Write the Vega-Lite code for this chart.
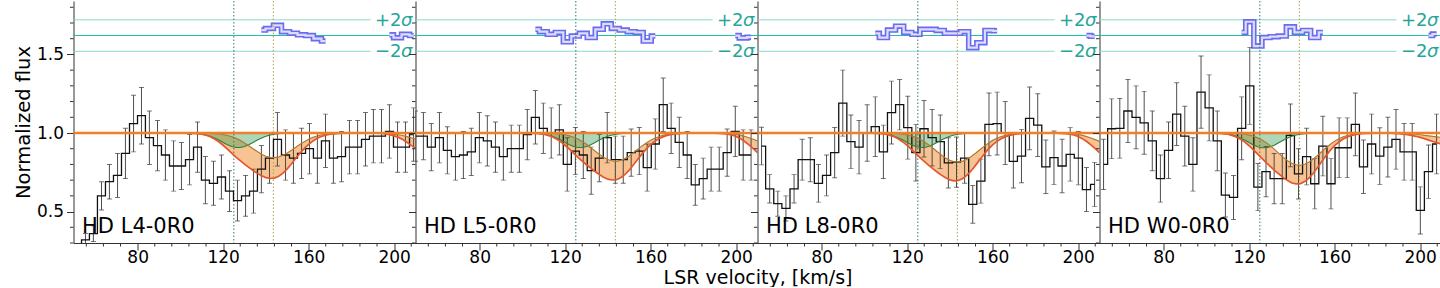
{
"$schema": "https://vega.github.io/schema/vega-lite/v6.json",
"padding": {"left": 13.5, "top": 0, "right": 0, "bottom": 0},
"autosize": {"type": "pad"},
"bounds": "flush",
"spacing": 0,
"config": {
 "font": "DejaVu Sans",
 "view": {"stroke": null},
 "axis": {"grid": false, "domainColor": "#333", "domainWidth": 1, "tickColor": "#333", "tickWidth": 1, "tickSize": 7, "labelFontSize": 17, "labelColor": "#000", "titleFontSize": 19.5, "titleFontWeight": "normal", "titleColor": "#000", "labelPadding": 3, "labelFlush": false, "labelBound": false, "labelOverlap": false, "labelFont": "DejaVu Sans", "titleFont": "DejaVu Sans"}
},
"datasets": {
 "sig": [{"t": "+2", "lv": 1.72}, {"t": "−2", "lv": 1.52}],
 "mid": [{"lv": 1.62}],
 "xt": [{"t":56},{"t":64},{"t":72},{"t":88},{"t":96},{"t":104},{"t":112},{"t":128},{"t":136},{"t":144},{"t":152},{"t":168},{"t":176},{"t":184},{"t":192},{"t":208}],
 "yt": [{"t":0.3},{"t":0.4},{"t":0.6},{"t":0.7},{"t":0.8},{"t":0.9},{"t":1.1},{"t":1.2},{"t":1.3},{"t":1.4},{"t":1.6},{"t":1.7},{"t":1.8}],
 "flux": [
  {"p":1,"v":51.9,"f":0.25,"e":0.03},{"p":1,"v":55.6,"f":0.32,"e":0.04},{"p":1,"v":59.3,"f":0.36,"e":0.05},{"p":1,"v":63.1,"f":0.60,"e":0.09},{"p":1,"v":66.8,"f":0.69,"e":0.11},{"p":1,"v":70.6,"f":0.73,"e":0.14},{"p":1,"v":74.3,"f":0.87,"e":0.16},{"p":1,"v":78.1,"f":1.06,"e":0.18},{"p":1,"v":81.8,"f":1.11,"e":0.18},{"p":1,"v":85.5,"f":0.97,"e":0.17},{"p":1,"v":89.3,"f":0.92,"e":0.16},{"p":1,"v":93.0,"f":0.86,"e":0.16},{"p":1,"v":96.8,"f":0.79,"e":0.16},{"p":1,"v":100.5,"f":0.79,"e":0.15},{"p":1,"v":104.3,"f":0.83,"e":0.16},{"p":1,"v":108.0,"f":0.91,"e":0.16},{"p":1,"v":111.7,"f":0.70,"e":0.15},{"p":1,"v":115.5,"f":0.68,"e":0.14},{"p":1,"v":119.2,"f":0.72,"e":0.14},{"p":1,"v":123.0,"f":0.63,"e":0.13},{"p":1,"v":126.7,"f":0.57,"e":0.13},{"p":1,"v":130.5,"f":0.60,"e":0.13},{"p":1,"v":134.2,"f":0.63,"e":0.14},{"p":1,"v":137.9,"f":0.77,"e":0.15},{"p":1,"v":141.7,"f":0.84,"e":0.16},{"p":1,"v":145.4,"f":0.96,"e":0.17},{"p":1,"v":149.2,"f":0.86,"e":0.16},{"p":1,"v":152.9,"f":0.84,"e":0.16},{"p":1,"v":156.7,"f":0.87,"e":0.16},{"p":1,"v":160.4,"f":0.90,"e":0.16},{"p":1,"v":164.1,"f":0.84,"e":0.16},{"p":1,"v":167.9,"f":0.95,"e":0.17},{"p":1,"v":171.6,"f":0.84,"e":0.16},{"p":1,"v":175.4,"f":0.85,"e":0.16},{"p":1,"v":179.1,"f":0.91,"e":0.17},{"p":1,"v":182.9,"f":0.91,"e":0.17},{"p":1,"v":186.6,"f":0.96,"e":0.17},{"p":1,"v":190.3,"f":0.98,"e":0.17},{"p":1,"v":194.1,"f":0.98,"e":0.17},{"p":1,"v":197.8,"f":1.01,"e":0.17},{"p":1,"v":201.6,"f":0.91,"e":0.16},{"p":1,"v":205.3,"f":0.91,"e":0.16},{"p":1,"v":209.1,"f":0.99,"e":0.17},
  {"p":2,"v":50.0,"f":0.98,"e":0.16},{"p":2,"v":53.7,"f":0.98,"e":0.15},{"p":2,"v":57.4,"f":0.91,"e":0.15},{"p":2,"v":61.2,"f":0.97,"e":0.16},{"p":2,"v":64.9,"f":0.89,"e":0.15},{"p":2,"v":68.7,"f":0.85,"e":0.15},{"p":2,"v":72.4,"f":0.86,"e":0.15},{"p":2,"v":76.1,"f":0.88,"e":0.15},{"p":2,"v":79.9,"f":0.97,"e":0.16},{"p":2,"v":83.6,"f":0.95,"e":0.16},{"p":2,"v":87.4,"f":0.91,"e":0.16},{"p":2,"v":91.1,"f":0.85,"e":0.15},{"p":2,"v":94.8,"f":0.90,"e":0.15},{"p":2,"v":98.6,"f":0.90,"e":0.15},{"p":2,"v":102.3,"f":0.99,"e":0.16},{"p":2,"v":106.1,"f":1.10,"e":0.17},{"p":2,"v":109.8,"f":1.03,"e":0.16},{"p":2,"v":113.5,"f":1.00,"e":0.16},{"p":2,"v":117.3,"f":1.02,"e":0.16},{"p":2,"v":121.0,"f":0.80,"e":0.17},{"p":2,"v":124.8,"f":0.885,"e":0.15},{"p":2,"v":128.5,"f":0.86,"e":0.15},{"p":2,"v":132.2,"f":0.76,"e":0.15},{"p":2,"v":136.0,"f":0.84,"e":0.15},{"p":2,"v":139.7,"f":0.97,"e":0.16},{"p":2,"v":143.5,"f":0.83,"e":0.15},{"p":2,"v":147.2,"f":0.83,"e":0.15},{"p":2,"v":150.9,"f":0.875,"e":0.15},{"p":2,"v":154.7,"f":0.885,"e":0.15},{"p":2,"v":158.4,"f":0.78,"e":0.15},{"p":2,"v":162.2,"f":0.93,"e":0.16},{"p":2,"v":165.9,"f":1.18,"e":0.17},{"p":2,"v":169.6,"f":1.03,"e":0.16},{"p":2,"v":173.4,"f":0.94,"e":0.16},{"p":2,"v":177.1,"f":0.86,"e":0.15},{"p":2,"v":180.9,"f":0.67,"e":0.13},{"p":2,"v":184.6,"f":0.71,"e":0.13},{"p":2,"v":188.3,"f":0.77,"e":0.14},{"p":2,"v":192.1,"f":0.77,"e":0.14},{"p":2,"v":195.8,"f":0.875,"e":0.15},{"p":2,"v":199.6,"f":1.01,"e":0.16},{"p":2,"v":203.3,"f":0.86,"e":0.16},{"p":2,"v":207.0,"f":0.86,"e":0.16},
  {"p":3,"v":51.9,"f":0.917,"e":0.12},{"p":3,"v":55.7,"f":0.645,"e":0.09},{"p":3,"v":59.5,"f":0.55,"e":0.08},{"p":3,"v":63.3,"f":0.52,"e":0.08},{"p":3,"v":67.1,"f":0.645,"e":0.09},{"p":3,"v":70.9,"f":0.83,"e":0.13},{"p":3,"v":74.7,"f":0.83,"e":0.14},{"p":3,"v":78.5,"f":0.68,"e":0.12},{"p":3,"v":82.3,"f":0.73,"e":0.13},{"p":3,"v":86.1,"f":0.875,"e":0.16},{"p":3,"v":89.9,"f":1.19,"e":0.21},{"p":3,"v":93.7,"f":0.945,"e":0.17},{"p":3,"v":97.5,"f":0.91,"e":0.17},{"p":3,"v":101.3,"f":1.0,"e":0.18},{"p":3,"v":105.1,"f":1.04,"e":0.19},{"p":3,"v":108.9,"f":0.88,"e":0.17},{"p":3,"v":112.7,"f":1.13,"e":0.2},{"p":3,"v":116.5,"f":1.18,"e":0.16},{"p":3,"v":120.3,"f":1.034,"e":0.2},{"p":3,"v":124.1,"f":0.875,"e":0.18},{"p":3,"v":127.9,"f":1.027,"e":0.18},{"p":3,"v":131.7,"f":0.97,"e":0.18},{"p":3,"v":135.5,"f":0.945,"e":0.17},{"p":3,"v":139.3,"f":0.81,"e":0.16},{"p":3,"v":143.1,"f":0.815,"e":0.16},{"p":3,"v":146.9,"f":0.84,"e":0.16},{"p":3,"v":150.7,"f":0.546,"e":0.12},{"p":3,"v":154.5,"f":0.694,"e":0.14},{"p":3,"v":158.3,"f":1.055,"e":0.2},{"p":3,"v":162.1,"f":1.06,"e":0.2},{"p":3,"v":165.9,"f":1.0,"e":0.2},{"p":3,"v":169.7,"f":0.82,"e":0.17},{"p":3,"v":173.5,"f":0.853,"e":0.17},{"p":3,"v":177.3,"f":1.093,"e":0.2},{"p":3,"v":181.1,"f":1.05,"e":0.2},{"p":3,"v":184.9,"f":0.785,"e":0.17},{"p":3,"v":188.7,"f":0.843,"e":0.17},{"p":3,"v":192.5,"f":0.79,"e":0.17},{"p":3,"v":196.3,"f":0.864,"e":0.17},{"p":3,"v":200.1,"f":0.84,"e":0.17},{"p":3,"v":203.9,"f":0.64,"e":0.14},{"p":3,"v":207.7,"f":0.673,"e":0.14},
  {"p":4,"v":51.9,"f":0.80,"e":0.16},{"p":4,"v":55.7,"f":1.027,"e":0.19},{"p":4,"v":59.5,"f":1.03,"e":0.19},{"p":4,"v":63.3,"f":1.14,"e":0.2},{"p":4,"v":67.1,"f":1.10,"e":0.2},{"p":4,"v":70.9,"f":1.065,"e":0.2},{"p":4,"v":74.7,"f":0.95,"e":0.19},{"p":4,"v":78.5,"f":0.71,"e":0.15},{"p":4,"v":82.3,"f":0.89,"e":0.18},{"p":4,"v":86.1,"f":1.12,"e":0.2},{"p":4,"v":89.9,"f":0.98,"e":0.19},{"p":4,"v":93.7,"f":0.80,"e":0.17},{"p":4,"v":97.5,"f":1.26,"e":0.23},{"p":4,"v":101.3,"f":1.16,"e":0.21},{"p":4,"v":105.1,"f":0.95,"e":0.19},{"p":4,"v":108.9,"f":0.605,"e":0.14},{"p":4,"v":112.7,"f":0.59,"e":0.14},{"p":4,"v":116.5,"f":1.03,"e":0.2},{"p":4,"v":120.3,"f":1.30,"e":0.245},{"p":4,"v":124.1,"f":0.656,"e":0.15},{"p":4,"v":127.9,"f":0.754,"e":0.16},{"p":4,"v":131.7,"f":0.71,"e":0.16},{"p":4,"v":135.5,"f":0.71,"e":0.16},{"p":4,"v":139.3,"f":0.985,"e":0.2},{"p":4,"v":143.1,"f":0.74,"e":0.16},{"p":4,"v":146.9,"f":0.85,"e":0.18},{"p":4,"v":150.7,"f":0.677,"e":0.16},{"p":4,"v":154.5,"f":0.917,"e":0.19},{"p":4,"v":158.3,"f":0.677,"e":0.16},{"p":4,"v":162.1,"f":0.906,"e":0.19},{"p":4,"v":165.9,"f":0.906,"e":0.19},{"p":4,"v":169.7,"f":1.055,"e":0.2},{"p":4,"v":173.5,"f":0.785,"e":0.17},{"p":4,"v":177.3,"f":0.93,"e":0.19},{"p":4,"v":181.1,"f":0.853,"e":0.18},{"p":4,"v":184.9,"f":0.91,"e":0.19},{"p":4,"v":188.7,"f":0.96,"e":0.19},{"p":4,"v":192.5,"f":0.88,"e":0.18},{"p":4,"v":196.3,"f":0.88,"e":0.18},{"p":4,"v":200.1,"f":0.507,"e":0.15},{"p":4,"v":203.9,"f":0.754,"e":0.17},{"p":4,"v":207.7,"f":0.93,"e":0.19}
 ],
 "res": [
  {"p":1,"s":"a","v":137.9,"r":1.655},{"p":1,"s":"a","v":141.7,"r":1.665},{"p":1,"s":"a","v":145.4,"r":1.685},{"p":1,"s":"a","v":149.2,"r":1.645},{"p":1,"s":"a","v":152.9,"r":1.635},{"p":1,"s":"a","v":156.7,"r":1.625},{"p":1,"s":"a","v":160.4,"r":1.62},{"p":1,"s":"a","v":164.1,"r":1.6},{"p":1,"s":"a","v":167.9,"r":1.585},
  {"p":1,"s":"b","v":197.8,"r":1.625},{"p":1,"s":"b","v":201.6,"r":1.606},{"p":1,"s":"b","v":205.3,"r":1.628},{"p":1,"s":"b","v":209.1,"r":1.62},
  {"p":2,"s":"a","v":106.1,"r":1.66},{"p":2,"s":"a","v":109.8,"r":1.645},{"p":2,"s":"a","v":113.5,"r":1.628},{"p":2,"s":"a","v":117.3,"r":1.64},{"p":2,"s":"a","v":121.0,"r":1.58},{"p":2,"s":"a","v":124.8,"r":1.617},{"p":2,"s":"a","v":128.5,"r":1.634},{"p":2,"s":"a","v":132.2,"r":1.607},{"p":2,"s":"a","v":136.0,"r":1.66},{"p":2,"s":"a","v":139.7,"r":1.695},{"p":2,"s":"a","v":143.5,"r":1.665},{"p":2,"s":"a","v":147.2,"r":1.655},{"p":2,"s":"a","v":150.9,"r":1.645},{"p":2,"s":"a","v":154.7,"r":1.64},{"p":2,"s":"a","v":158.4,"r":1.585},{"p":2,"s":"a","v":162.2,"r":1.617},
  {"p":2,"s":"b","v":199.6,"r":1.62},{"p":2,"s":"b","v":203.3,"r":1.605},{"p":2,"s":"b","v":207.0,"r":1.61},
  {"p":3,"s":"a","v":105.1,"r":1.634},{"p":3,"s":"a","v":108.9,"r":1.607},{"p":3,"s":"a","v":112.7,"r":1.655},{"p":3,"s":"a","v":116.5,"r":1.68},{"p":3,"s":"a","v":120.3,"r":1.64},{"p":3,"s":"a","v":124.1,"r":1.628},{"p":3,"s":"a","v":127.9,"r":1.66},{"p":3,"s":"a","v":131.7,"r":1.66},{"p":3,"s":"a","v":135.5,"r":1.653},{"p":3,"s":"a","v":139.3,"r":1.634},{"p":3,"s":"a","v":143.1,"r":1.634},{"p":3,"s":"a","v":146.9,"r":1.645},{"p":3,"s":"a","v":150.7,"r":1.543},{"p":3,"s":"a","v":154.5,"r":1.575},{"p":3,"s":"a","v":158.3,"r":1.653},{"p":3,"s":"a","v":162.1,"r":1.65},
  {"p":3,"s":"b","v":203.9,"r":1.62},{"p":3,"s":"b","v":207.7,"r":1.615},
  {"p":4,"s":"a","v":116.5,"r":1.64},{"p":4,"s":"a","v":120.3,"r":1.708},{"p":4,"s":"a","v":124.1,"r":1.553},{"p":4,"s":"a","v":127.9,"r":1.607},{"p":4,"s":"a","v":131.7,"r":1.613},{"p":4,"s":"a","v":135.5,"r":1.617},{"p":4,"s":"a","v":139.3,"r":1.676},{"p":4,"s":"a","v":143.1,"r":1.64},{"p":4,"s":"a","v":146.9,"r":1.653},{"p":4,"s":"a","v":150.7,"r":1.607},{"p":4,"s":"a","v":154.5,"r":1.64},
  {"p":4,"s":"b","v":203.9,"r":1.62},{"p":4,"s":"b","v":207.7,"r":1.63}
 ],
 "model": [
  {"p":1,"v":50,"g":1,"lo":1,"hi":1},{"p":1,"v":102,"g":1,"lo":1,"hi":1},{"p":1,"v":104,"g":0.999,"lo":0.999,"hi":1},{"p":1,"v":106,"g":0.998,"lo":0.998,"hi":1},{"p":1,"v":108,"g":0.996,"lo":0.996,"hi":1},{"p":1,"v":110,"g":0.993,"lo":0.992,"hi":0.999},{"p":1,"v":112,"g":0.987,"lo":0.986,"hi":0.999},{"p":1,"v":114,"g":0.979,"lo":0.976,"hi":0.998},{"p":1,"v":116,"g":0.968,"lo":0.962,"hi":0.996},{"p":1,"v":118,"g":0.955,"lo":0.944,"hi":0.994},{"p":1,"v":120,"g":0.940,"lo":0.922,"hi":0.990},{"p":1,"v":122,"g":0.926,"lo":0.898,"hi":0.984},{"p":1,"v":124,"g":0.914,"lo":0.872,"hi":0.977},{"p":1,"v":126,"g":0.908,"lo":0.847,"hi":0.966},{"p":1,"v":128,"g":0.908,"lo":0.824,"hi":0.953},{"p":1,"v":130,"g":0.914,"lo":0.802,"hi":0.937},{"p":1,"v":132,"g":0.926,"lo":0.781,"hi":0.919},{"p":1,"v":134,"g":0.940,"lo":0.761,"hi":0.900},{"p":1,"v":136,"g":0.955,"lo":0.743,"hi":0.882},{"p":1,"v":138,"g":0.968,"lo":0.728,"hi":0.865},{"p":1,"v":140,"g":0.979,"lo":0.716,"hi":0.852},{"p":1,"v":142,"g":0.987,"lo":0.711,"hi":0.845},{"p":1,"v":144,"g":0.993,"lo":0.713,"hi":0.843},{"p":1,"v":146,"g":0.996,"lo":0.725,"hi":0.848},{"p":1,"v":148,"g":0.998,"lo":0.745,"hi":0.858},{"p":1,"v":150,"g":0.999,"lo":0.772,"hi":0.873},{"p":1,"v":152,"g":1,"lo":0.804,"hi":0.891},{"p":1,"v":154,"g":1,"lo":0.839,"hi":0.910},{"p":1,"v":156,"g":1,"lo":0.872,"hi":0.928},{"p":1,"v":158,"g":1,"lo":0.902,"hi":0.945},{"p":1,"v":160,"g":1,"lo":0.928,"hi":0.960},{"p":1,"v":162,"g":1,"lo":0.949,"hi":0.972},{"p":1,"v":164,"g":1,"lo":0.966,"hi":0.981},{"p":1,"v":166,"g":1,"lo":0.978,"hi":0.988},{"p":1,"v":168,"g":1,"lo":0.986,"hi":0.992},{"p":1,"v":170,"g":1,"lo":0.992,"hi":0.995},{"p":1,"v":172,"g":1,"lo":0.995,"hi":0.997},{"p":1,"v":174,"g":1,"lo":0.997,"hi":0.999},{"p":1,"v":176,"g":1,"lo":0.999,"hi":0.999},{"p":1,"v":180,"g":1,"lo":1,"hi":1},{"p":1,"v":188,"g":1,"lo":1,"hi":1},{"p":1,"v":190,"g":1,"lo":0.999,"hi":1},{"p":1,"v":192,"g":1,"lo":0.999,"hi":0.999},{"p":1,"v":194,"g":1,"lo":0.997,"hi":0.999},{"p":1,"v":196,"g":1,"lo":0.994,"hi":0.998},{"p":1,"v":198,"g":1,"lo":0.990,"hi":0.996},{"p":1,"v":200,"g":1,"lo":0.982,"hi":0.993},{"p":1,"v":202,"g":1,"lo":0.972,"hi":0.989},{"p":1,"v":204,"g":1,"lo":0.958,"hi":0.984},{"p":1,"v":206,"g":1,"lo":0.941,"hi":0.977},{"p":1,"v":208,"g":1,"lo":0.921,"hi":0.970},{"p":1,"v":210,"g":1,"lo":0.902,"hi":0.962},
  {"p":2,"v":50,"g":1,"lo":1,"hi":1},{"p":2,"v":102,"g":1,"lo":1,"hi":1},{"p":2,"v":104,"g":0.999,"lo":0.999,"hi":1},{"p":2,"v":106,"g":0.998,"lo":0.998,"hi":1},{"p":2,"v":108,"g":0.996,"lo":0.996,"hi":1},{"p":2,"v":110,"g":0.993,"lo":0.992,"hi":0.999},{"p":2,"v":112,"g":0.987,"lo":0.985,"hi":0.999},{"p":2,"v":114,"g":0.979,"lo":0.976,"hi":0.998},{"p":2,"v":116,"g":0.968,"lo":0.962,"hi":0.996},{"p":2,"v":118,"g":0.955,"lo":0.944,"hi":0.993},{"p":2,"v":120,"g":0.940,"lo":0.922,"hi":0.989},{"p":2,"v":122,"g":0.926,"lo":0.897,"hi":0.982},{"p":2,"v":124,"g":0.914,"lo":0.871,"hi":0.973},{"p":2,"v":126,"g":0.908,"lo":0.845,"hi":0.961},{"p":2,"v":128,"g":0.908,"lo":0.821,"hi":0.946},{"p":2,"v":130,"g":0.914,"lo":0.798,"hi":0.928},{"p":2,"v":132,"g":0.926,"lo":0.776,"hi":0.907},{"p":2,"v":134,"g":0.940,"lo":0.755,"hi":0.885},{"p":2,"v":136,"g":0.955,"lo":0.736,"hi":0.864},{"p":2,"v":138,"g":0.968,"lo":0.719,"hi":0.845},{"p":2,"v":140,"g":0.979,"lo":0.706,"hi":0.831},{"p":2,"v":142,"g":0.987,"lo":0.701,"hi":0.822},{"p":2,"v":144,"g":0.993,"lo":0.703,"hi":0.820},{"p":2,"v":146,"g":0.996,"lo":0.715,"hi":0.826},{"p":2,"v":148,"g":0.998,"lo":0.736,"hi":0.837},{"p":2,"v":150,"g":0.999,"lo":0.764,"hi":0.854},{"p":2,"v":152,"g":1,"lo":0.798,"hi":0.875},{"p":2,"v":154,"g":1,"lo":0.833,"hi":0.896},{"p":2,"v":156,"g":1,"lo":0.867,"hi":0.918},{"p":2,"v":158,"g":1,"lo":0.899,"hi":0.937},{"p":2,"v":160,"g":1,"lo":0.926,"hi":0.954},{"p":2,"v":162,"g":1,"lo":0.948,"hi":0.967},{"p":2,"v":164,"g":1,"lo":0.965,"hi":0.978},{"p":2,"v":166,"g":1,"lo":0.977,"hi":0.986},{"p":2,"v":168,"g":1,"lo":0.986,"hi":0.991},{"p":2,"v":170,"g":1,"lo":0.991,"hi":0.995},{"p":2,"v":172,"g":1,"lo":0.995,"hi":0.997},{"p":2,"v":174,"g":1,"lo":0.997,"hi":0.998},{"p":2,"v":176,"g":1,"lo":0.999,"hi":0.999},{"p":2,"v":180,"g":1,"lo":1,"hi":1},{"p":2,"v":188,"g":1,"lo":1,"hi":1},{"p":2,"v":190,"g":1,"lo":0.999,"hi":1},{"p":2,"v":192,"g":1,"lo":0.998,"hi":0.999},{"p":2,"v":194,"g":1,"lo":0.996,"hi":0.999},{"p":2,"v":196,"g":1,"lo":0.993,"hi":0.997},{"p":2,"v":198,"g":1,"lo":0.987,"hi":0.995},{"p":2,"v":200,"g":1,"lo":0.978,"hi":0.991},{"p":2,"v":202,"g":1,"lo":0.964,"hi":0.986},{"p":2,"v":204,"g":1,"lo":0.946,"hi":0.979},{"p":2,"v":206,"g":1,"lo":0.924,"hi":0.970},{"p":2,"v":208,"g":1,"lo":0.900,"hi":0.960},{"p":2,"v":210,"g":1,"lo":0.875,"hi":0.950},
  {"p":3,"v":50,"g":1,"lo":1,"hi":1},{"p":3,"v":102,"g":1,"lo":1,"hi":1},{"p":3,"v":104,"g":0.999,"lo":0.999,"hi":1},{"p":3,"v":106,"g":0.998,"lo":0.998,"hi":1},{"p":3,"v":108,"g":0.996,"lo":0.996,"hi":1},{"p":3,"v":110,"g":0.993,"lo":0.992,"hi":0.999},{"p":3,"v":112,"g":0.987,"lo":0.985,"hi":0.999},{"p":3,"v":114,"g":0.979,"lo":0.976,"hi":0.998},{"p":3,"v":116,"g":0.968,"lo":0.962,"hi":0.996},{"p":3,"v":118,"g":0.955,"lo":0.943,"hi":0.993},{"p":3,"v":120,"g":0.940,"lo":0.921,"hi":0.988},{"p":3,"v":122,"g":0.926,"lo":0.896,"hi":0.982},{"p":3,"v":124,"g":0.914,"lo":0.870,"hi":0.972},{"p":3,"v":126,"g":0.908,"lo":0.844,"hi":0.960},{"p":3,"v":128,"g":0.908,"lo":0.819,"hi":0.944},{"p":3,"v":130,"g":0.914,"lo":0.796,"hi":0.926},{"p":3,"v":132,"g":0.926,"lo":0.773,"hi":0.905},{"p":3,"v":134,"g":0.940,"lo":0.752,"hi":0.882},{"p":3,"v":136,"g":0.955,"lo":0.732,"hi":0.860},{"p":3,"v":138,"g":0.968,"lo":0.715,"hi":0.841},{"p":3,"v":140,"g":0.979,"lo":0.702,"hi":0.826},{"p":3,"v":142,"g":0.987,"lo":0.696,"hi":0.817},{"p":3,"v":144,"g":0.993,"lo":0.698,"hi":0.815},{"p":3,"v":146,"g":0.996,"lo":0.710,"hi":0.821},{"p":3,"v":148,"g":0.998,"lo":0.732,"hi":0.833},{"p":3,"v":150,"g":0.999,"lo":0.760,"hi":0.850},{"p":3,"v":152,"g":1,"lo":0.794,"hi":0.871},{"p":3,"v":154,"g":1,"lo":0.830,"hi":0.893},{"p":3,"v":156,"g":1,"lo":0.865,"hi":0.915},{"p":3,"v":158,"g":1,"lo":0.897,"hi":0.935},{"p":3,"v":160,"g":1,"lo":0.925,"hi":0.953},{"p":3,"v":162,"g":1,"lo":0.947,"hi":0.967},{"p":3,"v":164,"g":1,"lo":0.964,"hi":0.977},{"p":3,"v":166,"g":1,"lo":0.977,"hi":0.985},{"p":3,"v":168,"g":1,"lo":0.985,"hi":0.991},{"p":3,"v":170,"g":1,"lo":0.991,"hi":0.995},{"p":3,"v":172,"g":1,"lo":0.995,"hi":0.997},{"p":3,"v":174,"g":1,"lo":0.997,"hi":0.998},{"p":3,"v":176,"g":1,"lo":0.999,"hi":0.999},{"p":3,"v":180,"g":1,"lo":1,"hi":1},{"p":3,"v":188,"g":1,"lo":1,"hi":1},{"p":3,"v":190,"g":1,"lo":0.999,"hi":1},{"p":3,"v":192,"g":1,"lo":0.998,"hi":0.999},{"p":3,"v":194,"g":1,"lo":0.996,"hi":0.998},{"p":3,"v":196,"g":1,"lo":0.993,"hi":0.997},{"p":3,"v":198,"g":1,"lo":0.987,"hi":0.994},{"p":3,"v":200,"g":1,"lo":0.978,"hi":0.991},{"p":3,"v":202,"g":1,"lo":0.964,"hi":0.985},{"p":3,"v":204,"g":1,"lo":0.946,"hi":0.977},{"p":3,"v":206,"g":1,"lo":0.924,"hi":0.968},{"p":3,"v":208,"g":1,"lo":0.900,"hi":0.958},{"p":3,"v":210,"g":1,"lo":0.875,"hi":0.947},
  {"p":4,"v":50,"g":1,"lo":1,"hi":1},{"p":4,"v":102,"g":1,"lo":1,"hi":1},{"p":4,"v":104,"g":0.999,"lo":0.999,"hi":1},{"p":4,"v":106,"g":0.998,"lo":0.998,"hi":1},{"p":4,"v":108,"g":0.996,"lo":0.996,"hi":1},{"p":4,"v":110,"g":0.993,"lo":0.992,"hi":0.999},{"p":4,"v":112,"g":0.987,"lo":0.985,"hi":0.999},{"p":4,"v":114,"g":0.979,"lo":0.975,"hi":0.997},{"p":4,"v":116,"g":0.968,"lo":0.960,"hi":0.995},{"p":4,"v":118,"g":0.954,"lo":0.942,"hi":0.992},{"p":4,"v":120,"g":0.939,"lo":0.919,"hi":0.987},{"p":4,"v":122,"g":0.924,"lo":0.893,"hi":0.980},{"p":4,"v":124,"g":0.912,"lo":0.865,"hi":0.969},{"p":4,"v":126,"g":0.906,"lo":0.838,"hi":0.956},{"p":4,"v":128,"g":0.906,"lo":0.811,"hi":0.938},{"p":4,"v":130,"g":0.912,"lo":0.786,"hi":0.918},{"p":4,"v":132,"g":0.924,"lo":0.761,"hi":0.894},{"p":4,"v":134,"g":0.939,"lo":0.738,"hi":0.869},{"p":4,"v":136,"g":0.954,"lo":0.716,"hi":0.845},{"p":4,"v":138,"g":0.968,"lo":0.697,"hi":0.824},{"p":4,"v":140,"g":0.979,"lo":0.682,"hi":0.807},{"p":4,"v":142,"g":0.987,"lo":0.676,"hi":0.797},{"p":4,"v":144,"g":0.993,"lo":0.678,"hi":0.795},{"p":4,"v":146,"g":0.996,"lo":0.691,"hi":0.801},{"p":4,"v":148,"g":0.998,"lo":0.713,"hi":0.815},{"p":4,"v":150,"g":0.999,"lo":0.744,"hi":0.834},{"p":4,"v":152,"g":1,"lo":0.780,"hi":0.857},{"p":4,"v":154,"g":1,"lo":0.818,"hi":0.882},{"p":4,"v":156,"g":1,"lo":0.856,"hi":0.906},{"p":4,"v":158,"g":1,"lo":0.890,"hi":0.928},{"p":4,"v":160,"g":1,"lo":0.919,"hi":0.948},{"p":4,"v":162,"g":1,"lo":0.943,"hi":0.963},{"p":4,"v":164,"g":1,"lo":0.962,"hi":0.975},{"p":4,"v":166,"g":1,"lo":0.975,"hi":0.984},{"p":4,"v":168,"g":1,"lo":0.984,"hi":0.990},{"p":4,"v":170,"g":1,"lo":0.991,"hi":0.994},{"p":4,"v":172,"g":1,"lo":0.995,"hi":0.997},{"p":4,"v":174,"g":1,"lo":0.997,"hi":0.998},{"p":4,"v":176,"g":1,"lo":0.998,"hi":0.999},{"p":4,"v":180,"g":1,"lo":1,"hi":1},{"p":4,"v":184,"g":1,"lo":0.999,"hi":1},{"p":4,"v":186,"g":1,"lo":0.999,"hi":0.999},{"p":4,"v":188,"g":1,"lo":0.998,"hi":0.999},{"p":4,"v":190,"g":1,"lo":0.996,"hi":0.998},{"p":4,"v":192,"g":1,"lo":0.993,"hi":0.997},{"p":4,"v":194,"g":1,"lo":0.990,"hi":0.996},{"p":4,"v":196,"g":1,"lo":0.985,"hi":0.994},{"p":4,"v":198,"g":1,"lo":0.979,"hi":0.992},{"p":4,"v":200,"g":1,"lo":0.972,"hi":0.989},{"p":4,"v":202,"g":1,"lo":0.964,"hi":0.985},{"p":4,"v":204,"g":1,"lo":0.955,"hi":0.982},{"p":4,"v":206,"g":1,"lo":0.946,"hi":0.978},{"p":4,"v":208,"g":1,"lo":0.937,"hi":0.975},{"p":4,"v":210,"g":1,"lo":0.931,"hi":0.972}
 ]
},
"hconcat": [
 {"width": 342, "height": 242, "layer": [
  {"data": {"name": "model"}, "transform": [{"filter": "datum.p == 1"}], "mark": {"type": "area", "color": "#f0913a", "opacity": 0.55, "clip": true},
   "encoding": {"x": {"field": "v", "type": "quantitative", "scale": {"domain": [50, 210], "nice": false, "zero": false}, "axis": {"title": null, "labelPadding": -0.5, "values": [80, 120, 160, 200], "format": "d"}},
    "y": {"field": "lo", "type": "quantitative", "scale": {"domain": [0.3, 1.84], "nice": false, "zero": false}, "axis": {"title": "Normalized flux", "titlePadding": 2.5, "values": [0.5, 1.0, 1.5], "format": ".1f"}},
    "y2": {"field": "hi"}}},
  {"data": {"name": "xt"}, "mark": {"type": "rule", "color": "#333", "strokeWidth": 1}, "encoding": {"x": {"field": "t", "type": "quantitative"}, "y": {"datum": 0.3}, "y2": {"datum": 0.2777}}},
  {"data": {"name": "yt"}, "mark": {"type": "rule", "color": "#333", "strokeWidth": 1}, "encoding": {"y": {"field": "t", "type": "quantitative"}, "x": {"datum": 50}, "x2": {"datum": 48.36}}},
  {"data": {"name": "model"}, "transform": [{"filter": "datum.p == 1"}], "mark": {"type": "area", "color": "#3f9f5a", "opacity": 0.42, "clip": true},
   "encoding": {"x": {"field": "v", "type": "quantitative"}, "y": {"field": "g", "type": "quantitative"}, "y2": {"datum": 1}}},
  {"data": {"name": "sig"}, "mark": {"type": "rule", "stroke": "#8ad8cc", "strokeWidth": 1},
   "encoding": {"x": {"datum": 50}, "x2": {"datum": 189}, "y": {"field": "lv", "type": "quantitative"}}},
  {"data": {"name": "mid"}, "mark": {"type": "rule", "strokeWidth": 1.1},
   "encoding": {"x": {"datum": 50}, "x2": {"datum": 210}, "y": {"field": "lv", "type": "quantitative"}, "color": {"value": "#1fc0ad"}}},
  {"data": {"name": "res"}, "transform": [{"filter": "datum.p == 1"}], "mark": {"type": "line", "interpolate": "step", "color": "#6b6bf0", "strokeWidth": 5.5, "clip": true},
   "encoding": {"x": {"field": "v", "type": "quantitative"}, "y": {"field": "r", "type": "quantitative"}, "detail": {"field": "s"}}},
  {"data": {"name": "res"}, "transform": [{"filter": "datum.p == 1"}], "mark": {"type": "line", "interpolate": "step", "color": "#dcdcff", "strokeWidth": 2.2, "clip": true},
   "encoding": {"x": {"field": "v", "type": "quantitative"}, "y": {"field": "r", "type": "quantitative"}, "detail": {"field": "s"}}},
  {"data": {"values": [{}]}, "mark": {"type": "rule", "color": "#2b7a68", "strokeWidth": 1, "strokeDash": [1.5, 2]}, "encoding": {"x": {"datum": 125}}},
  {"data": {"values": [{}]}, "mark": {"type": "rule", "color": "#b0a050", "strokeWidth": 1, "strokeDash": [1.5, 2]}, "encoding": {"x": {"datum": 143.5}}},
  {"data": {"name": "flux"}, "transform": [{"filter": "datum.p == 1"}], "mark": {"type": "errorbar", "ticks": true, "color": "#3a3a3a", "thickness": 0.9, "size": 5, "clip": true},
   "encoding": {"x": {"field": "v", "type": "quantitative", "title": null}, "y": {"field": "f", "type": "quantitative", "title": "Normalized flux"}, "yError": {"field": "e"}}},
  {"data": {"name": "flux"}, "transform": [{"filter": "datum.p == 1"}], "mark": {"type": "line", "interpolate": "step", "color": "#111", "strokeWidth": 1.3, "clip": true},
   "encoding": {"x": {"field": "v", "type": "quantitative"}, "y": {"field": "f", "type": "quantitative"}}},
  {"data": {"name": "model"}, "transform": [{"filter": "datum.p == 1"}], "mark": {"type": "line", "color": "#2f7d3a", "strokeWidth": 1.1, "clip": true},
   "encoding": {"x": {"field": "v", "type": "quantitative"}, "y": {"field": "g", "type": "quantitative"}}},
  {"data": {"name": "model"}, "transform": [{"filter": "datum.p == 1"}], "mark": {"type": "line", "color": "#b07a30", "strokeWidth": 1.2, "clip": true},
   "encoding": {"x": {"field": "v", "type": "quantitative"}, "y": {"field": "hi", "type": "quantitative"}}},
  {"data": {"name": "model"}, "transform": [{"filter": "datum.p == 1"}], "mark": {"type": "line", "color": "#e4572e", "strokeWidth": 1.7, "clip": true},
   "encoding": {"x": {"field": "v", "type": "quantitative"}, "y": {"field": "lo", "type": "quantitative"}}},
  {"data": {"values": [{}]}, "mark": {"type": "rule", "color": "#f07f2a", "strokeWidth": 2.6}, "encoding": {"y": {"datum": 1}}},
  {"data": {"values": [{"t": "HD L4-0R0"}]}, "mark": {"type": "text", "align": "left", "baseline": "alphabetic", "fontSize": 21, "color": "#000"},
   "encoding": {"x": {"datum": 54}, "y": {"datum": 0.363}, "text": {"field": "t"}}},
  {"data": {"name": "sig"}, "mark": {"type": "text", "align": "right", "baseline": "middle", "fontSize": 18, "color": "#26a69a", "dx": -11, "dy": 1},
   "encoding": {"x": {"datum": 208.6}, "y": {"field": "lv", "type": "quantitative"}, "text": {"field": "t"}}},
  {"data": {"name": "sig"}, "mark": {"type": "text", "align": "right", "baseline": "middle", "fontSize": 18, "fontStyle": "italic", "color": "#26a69a", "dy": 1},
   "encoding": {"x": {"datum": 208.6}, "y": {"field": "lv", "type": "quantitative"}, "text": {"value": "σ"}}}
 ]},
 {"width": 342, "height": 242, "layer": [
  {"data": {"name": "model"}, "transform": [{"filter": "datum.p == 2"}], "mark": {"type": "area", "color": "#f0913a", "opacity": 0.55, "clip": true},
   "encoding": {"x": {"field": "v", "type": "quantitative", "scale": {"domain": [50, 210], "nice": false, "zero": false}, "axis": {"title": "LSR velocity, [km/s]", "titleFontSize": 19, "titleX": 342, "titleY": 40, "titleAlign": "center", "titleBaseline": "alphabetic", "labelPadding": -0.5, "values": [80, 120, 160, 200], "format": "d"}},
    "y": {"field": "lo", "type": "quantitative", "scale": {"domain": [0.3, 1.84], "nice": false, "zero": false}, "axis": {"title": null, "labels": false, "values": [0.5, 1.0, 1.5]}},
    "y2": {"field": "hi"}}},
  {"data": {"name": "xt"}, "mark": {"type": "rule", "color": "#333", "strokeWidth": 1}, "encoding": {"x": {"field": "t", "type": "quantitative"}, "y": {"datum": 0.3}, "y2": {"datum": 0.2777}}},
  {"data": {"name": "yt"}, "mark": {"type": "rule", "color": "#333", "strokeWidth": 1}, "encoding": {"y": {"field": "t", "type": "quantitative"}, "x": {"datum": 50}, "x2": {"datum": 48.36}}},
  {"data": {"name": "model"}, "transform": [{"filter": "datum.p == 2"}], "mark": {"type": "area", "color": "#3f9f5a", "opacity": 0.42, "clip": true},
   "encoding": {"x": {"field": "v", "type": "quantitative"}, "y": {"field": "g", "type": "quantitative"}, "y2": {"datum": 1}}},
  {"data": {"name": "sig"}, "mark": {"type": "rule", "stroke": "#8ad8cc", "strokeWidth": 1},
   "encoding": {"x": {"datum": 50}, "x2": {"datum": 189}, "y": {"field": "lv", "type": "quantitative"}}},
  {"data": {"name": "mid"}, "mark": {"type": "rule", "strokeWidth": 1.1},
   "encoding": {"x": {"datum": 50}, "x2": {"datum": 210}, "y": {"field": "lv", "type": "quantitative"}, "color": {"value": "#1fc0ad"}}},
  {"data": {"name": "res"}, "transform": [{"filter": "datum.p == 2"}], "mark": {"type": "line", "interpolate": "step", "color": "#6b6bf0", "strokeWidth": 5.5, "clip": true},
   "encoding": {"x": {"field": "v", "type": "quantitative"}, "y": {"field": "r", "type": "quantitative"}, "detail": {"field": "s"}}},
  {"data": {"name": "res"}, "transform": [{"filter": "datum.p == 2"}], "mark": {"type": "line", "interpolate": "step", "color": "#dcdcff", "strokeWidth": 2.2, "clip": true},
   "encoding": {"x": {"field": "v", "type": "quantitative"}, "y": {"field": "r", "type": "quantitative"}, "detail": {"field": "s"}}},
  {"data": {"values": [{}]}, "mark": {"type": "rule", "color": "#2b7a68", "strokeWidth": 1, "strokeDash": [1.5, 2]}, "encoding": {"x": {"datum": 125}}},
  {"data": {"values": [{}]}, "mark": {"type": "rule", "color": "#b0a050", "strokeWidth": 1, "strokeDash": [1.5, 2]}, "encoding": {"x": {"datum": 143.5}}},
  {"data": {"name": "flux"}, "transform": [{"filter": "datum.p == 2"}], "mark": {"type": "errorbar", "ticks": true, "color": "#3a3a3a", "thickness": 0.9, "size": 5, "clip": true},
   "encoding": {"x": {"field": "v", "type": "quantitative", "title": "LSR velocity, [km/s]"}, "y": {"field": "f", "type": "quantitative", "title": null}, "yError": {"field": "e"}}},
  {"data": {"name": "flux"}, "transform": [{"filter": "datum.p == 2"}], "mark": {"type": "line", "interpolate": "step", "color": "#111", "strokeWidth": 1.3, "clip": true},
   "encoding": {"x": {"field": "v", "type": "quantitative"}, "y": {"field": "f", "type": "quantitative"}}},
  {"data": {"name": "model"}, "transform": [{"filter": "datum.p == 2"}], "mark": {"type": "line", "color": "#2f7d3a", "strokeWidth": 1.1, "clip": true},
   "encoding": {"x": {"field": "v", "type": "quantitative"}, "y": {"field": "g", "type": "quantitative"}}},
  {"data": {"name": "model"}, "transform": [{"filter": "datum.p == 2"}], "mark": {"type": "line", "color": "#b07a30", "strokeWidth": 1.2, "clip": true},
   "encoding": {"x": {"field": "v", "type": "quantitative"}, "y": {"field": "hi", "type": "quantitative"}}},
  {"data": {"name": "model"}, "transform": [{"filter": "datum.p == 2"}], "mark": {"type": "line", "color": "#e4572e", "strokeWidth": 1.7, "clip": true},
   "encoding": {"x": {"field": "v", "type": "quantitative"}, "y": {"field": "lo", "type": "quantitative"}}},
  {"data": {"values": [{}]}, "mark": {"type": "rule", "color": "#f07f2a", "strokeWidth": 2.6}, "encoding": {"y": {"datum": 1}}},
  {"data": {"values": [{"t": "HD L5-0R0"}]}, "mark": {"type": "text", "align": "left", "baseline": "alphabetic", "fontSize": 21, "color": "#000"},
   "encoding": {"x": {"datum": 54}, "y": {"datum": 0.363}, "text": {"field": "t"}}},
  {"data": {"name": "sig"}, "mark": {"type": "text", "align": "right", "baseline": "middle", "fontSize": 18, "color": "#26a69a", "dx": -11, "dy": 1},
   "encoding": {"x": {"datum": 208.6}, "y": {"field": "lv", "type": "quantitative"}, "text": {"field": "t"}}},
  {"data": {"name": "sig"}, "mark": {"type": "text", "align": "right", "baseline": "middle", "fontSize": 18, "fontStyle": "italic", "color": "#26a69a", "dy": 1},
   "encoding": {"x": {"datum": 208.6}, "y": {"field": "lv", "type": "quantitative"}, "text": {"value": "σ"}}}
 ]},
 {"width": 342, "height": 242, "layer": [
  {"data": {"name": "model"}, "transform": [{"filter": "datum.p == 3"}], "mark": {"type": "area", "color": "#f0913a", "opacity": 0.55, "clip": true},
   "encoding": {"x": {"field": "v", "type": "quantitative", "scale": {"domain": [50, 210], "nice": false, "zero": false}, "axis": {"title": null, "labelPadding": -0.5, "values": [80, 120, 160, 200], "format": "d"}},
    "y": {"field": "lo", "type": "quantitative", "scale": {"domain": [0.3, 1.84], "nice": false, "zero": false}, "axis": {"title": null, "labels": false, "values": [0.5, 1.0, 1.5]}},
    "y2": {"field": "hi"}}},
  {"data": {"name": "xt"}, "mark": {"type": "rule", "color": "#333", "strokeWidth": 1}, "encoding": {"x": {"field": "t", "type": "quantitative"}, "y": {"datum": 0.3}, "y2": {"datum": 0.2777}}},
  {"data": {"name": "yt"}, "mark": {"type": "rule", "color": "#333", "strokeWidth": 1}, "encoding": {"y": {"field": "t", "type": "quantitative"}, "x": {"datum": 50}, "x2": {"datum": 48.36}}},
  {"data": {"name": "model"}, "transform": [{"filter": "datum.p == 3"}], "mark": {"type": "area", "color": "#3f9f5a", "opacity": 0.42, "clip": true},
   "encoding": {"x": {"field": "v", "type": "quantitative"}, "y": {"field": "g", "type": "quantitative"}, "y2": {"datum": 1}}},
  {"data": {"name": "sig"}, "mark": {"type": "rule", "stroke": "#8ad8cc", "strokeWidth": 1},
   "encoding": {"x": {"datum": 50}, "x2": {"datum": 189}, "y": {"field": "lv", "type": "quantitative"}}},
  {"data": {"name": "mid"}, "mark": {"type": "rule", "strokeWidth": 1.1},
   "encoding": {"x": {"datum": 50}, "x2": {"datum": 210}, "y": {"field": "lv", "type": "quantitative"}, "color": {"value": "#1fc0ad"}}},
  {"data": {"name": "res"}, "transform": [{"filter": "datum.p == 3"}], "mark": {"type": "line", "interpolate": "step", "color": "#6b6bf0", "strokeWidth": 5.5, "clip": true},
   "encoding": {"x": {"field": "v", "type": "quantitative"}, "y": {"field": "r", "type": "quantitative"}, "detail": {"field": "s"}}},
  {"data": {"name": "res"}, "transform": [{"filter": "datum.p == 3"}], "mark": {"type": "line", "interpolate": "step", "color": "#dcdcff", "strokeWidth": 2.2, "clip": true},
   "encoding": {"x": {"field": "v", "type": "quantitative"}, "y": {"field": "r", "type": "quantitative"}, "detail": {"field": "s"}}},
  {"data": {"values": [{}]}, "mark": {"type": "rule", "color": "#2b7a68", "strokeWidth": 1, "strokeDash": [1.5, 2]}, "encoding": {"x": {"datum": 125}}},
  {"data": {"values": [{}]}, "mark": {"type": "rule", "color": "#b0a050", "strokeWidth": 1, "strokeDash": [1.5, 2]}, "encoding": {"x": {"datum": 143.5}}},
  {"data": {"name": "flux"}, "transform": [{"filter": "datum.p == 3"}], "mark": {"type": "errorbar", "ticks": true, "color": "#3a3a3a", "thickness": 0.9, "size": 5, "clip": true},
   "encoding": {"x": {"field": "v", "type": "quantitative", "title": null}, "y": {"field": "f", "type": "quantitative", "title": null}, "yError": {"field": "e"}}},
  {"data": {"name": "flux"}, "transform": [{"filter": "datum.p == 3"}], "mark": {"type": "line", "interpolate": "step", "color": "#111", "strokeWidth": 1.3, "clip": true},
   "encoding": {"x": {"field": "v", "type": "quantitative"}, "y": {"field": "f", "type": "quantitative"}}},
  {"data": {"name": "model"}, "transform": [{"filter": "datum.p == 3"}], "mark": {"type": "line", "color": "#2f7d3a", "strokeWidth": 1.1, "clip": true},
   "encoding": {"x": {"field": "v", "type": "quantitative"}, "y": {"field": "g", "type": "quantitative"}}},
  {"data": {"name": "model"}, "transform": [{"filter": "datum.p == 3"}], "mark": {"type": "line", "color": "#b07a30", "strokeWidth": 1.2, "clip": true},
   "encoding": {"x": {"field": "v", "type": "quantitative"}, "y": {"field": "hi", "type": "quantitative"}}},
  {"data": {"name": "model"}, "transform": [{"filter": "datum.p == 3"}], "mark": {"type": "line", "color": "#e4572e", "strokeWidth": 1.7, "clip": true},
   "encoding": {"x": {"field": "v", "type": "quantitative"}, "y": {"field": "lo", "type": "quantitative"}}},
  {"data": {"values": [{}]}, "mark": {"type": "rule", "color": "#f07f2a", "strokeWidth": 2.6}, "encoding": {"y": {"datum": 1}}},
  {"data": {"values": [{"t": "HD L8-0R0"}]}, "mark": {"type": "text", "align": "left", "baseline": "alphabetic", "fontSize": 21, "color": "#000"},
   "encoding": {"x": {"datum": 54}, "y": {"datum": 0.363}, "text": {"field": "t"}}},
  {"data": {"name": "sig"}, "mark": {"type": "text", "align": "right", "baseline": "middle", "fontSize": 18, "color": "#26a69a", "dx": -11, "dy": 1},
   "encoding": {"x": {"datum": 208.6}, "y": {"field": "lv", "type": "quantitative"}, "text": {"field": "t"}}},
  {"data": {"name": "sig"}, "mark": {"type": "text", "align": "right", "baseline": "middle", "fontSize": 18, "fontStyle": "italic", "color": "#26a69a", "dy": 1},
   "encoding": {"x": {"datum": 208.6}, "y": {"field": "lv", "type": "quantitative"}, "text": {"value": "σ"}}}
 ]},
 {"width": 342, "height": 242, "layer": [
  {"data": {"name": "model"}, "transform": [{"filter": "datum.p == 4"}], "mark": {"type": "area", "color": "#f0913a", "opacity": 0.55, "clip": true},
   "encoding": {"x": {"field": "v", "type": "quantitative", "scale": {"domain": [50, 210], "nice": false, "zero": false}, "axis": {"title": null, "labelPadding": -0.5, "values": [80, 120, 160, 200], "format": "d"}},
    "y": {"field": "lo", "type": "quantitative", "scale": {"domain": [0.3, 1.84], "nice": false, "zero": false}, "axis": {"title": null, "labels": false, "values": [0.5, 1.0, 1.5]}},
    "y2": {"field": "hi"}}},
  {"data": {"name": "xt"}, "mark": {"type": "rule", "color": "#333", "strokeWidth": 1}, "encoding": {"x": {"field": "t", "type": "quantitative"}, "y": {"datum": 0.3}, "y2": {"datum": 0.2777}}},
  {"data": {"name": "yt"}, "mark": {"type": "rule", "color": "#333", "strokeWidth": 1}, "encoding": {"y": {"field": "t", "type": "quantitative"}, "x": {"datum": 50}, "x2": {"datum": 48.36}}},
  {"data": {"name": "model"}, "transform": [{"filter": "datum.p == 4"}], "mark": {"type": "area", "color": "#3f9f5a", "opacity": 0.42, "clip": true},
   "encoding": {"x": {"field": "v", "type": "quantitative"}, "y": {"field": "g", "type": "quantitative"}, "y2": {"datum": 1}}},
  {"data": {"name": "sig"}, "mark": {"type": "rule", "stroke": "#8ad8cc", "strokeWidth": 1},
   "encoding": {"x": {"datum": 50}, "x2": {"datum": 189}, "y": {"field": "lv", "type": "quantitative"}}},
  {"data": {"name": "mid"}, "mark": {"type": "rule", "strokeWidth": 1.1},
   "encoding": {"x": {"datum": 50}, "x2": {"datum": 210}, "y": {"field": "lv", "type": "quantitative"}, "color": {"value": "#1fc0ad"}}},
  {"data": {"name": "res"}, "transform": [{"filter": "datum.p == 4"}], "mark": {"type": "line", "interpolate": "step", "color": "#6b6bf0", "strokeWidth": 5.5, "clip": true},
   "encoding": {"x": {"field": "v", "type": "quantitative"}, "y": {"field": "r", "type": "quantitative"}, "detail": {"field": "s"}}},
  {"data": {"name": "res"}, "transform": [{"filter": "datum.p == 4"}], "mark": {"type": "line", "interpolate": "step", "color": "#dcdcff", "strokeWidth": 2.2, "clip": true},
   "encoding": {"x": {"field": "v", "type": "quantitative"}, "y": {"field": "r", "type": "quantitative"}, "detail": {"field": "s"}}},
  {"data": {"values": [{}]}, "mark": {"type": "rule", "color": "#2b7a68", "strokeWidth": 1, "strokeDash": [1.5, 2]}, "encoding": {"x": {"datum": 125}}},
  {"data": {"values": [{}]}, "mark": {"type": "rule", "color": "#b0a050", "strokeWidth": 1, "strokeDash": [1.5, 2]}, "encoding": {"x": {"datum": 143.5}}},
  {"data": {"name": "flux"}, "transform": [{"filter": "datum.p == 4"}], "mark": {"type": "errorbar", "ticks": true, "color": "#3a3a3a", "thickness": 0.9, "size": 5, "clip": true},
   "encoding": {"x": {"field": "v", "type": "quantitative", "title": null}, "y": {"field": "f", "type": "quantitative", "title": null}, "yError": {"field": "e"}}},
  {"data": {"name": "flux"}, "transform": [{"filter": "datum.p == 4"}], "mark": {"type": "line", "interpolate": "step", "color": "#111", "strokeWidth": 1.3, "clip": true},
   "encoding": {"x": {"field": "v", "type": "quantitative"}, "y": {"field": "f", "type": "quantitative"}}},
  {"data": {"name": "model"}, "transform": [{"filter": "datum.p == 4"}], "mark": {"type": "line", "color": "#2f7d3a", "strokeWidth": 1.1, "clip": true},
   "encoding": {"x": {"field": "v", "type": "quantitative"}, "y": {"field": "g", "type": "quantitative"}}},
  {"data": {"name": "model"}, "transform": [{"filter": "datum.p == 4"}], "mark": {"type": "line", "color": "#b07a30", "strokeWidth": 1.2, "clip": true},
   "encoding": {"x": {"field": "v", "type": "quantitative"}, "y": {"field": "hi", "type": "quantitative"}}},
  {"data": {"name": "model"}, "transform": [{"filter": "datum.p == 4"}], "mark": {"type": "line", "color": "#e4572e", "strokeWidth": 1.7, "clip": true},
   "encoding": {"x": {"field": "v", "type": "quantitative"}, "y": {"field": "lo", "type": "quantitative"}}},
  {"data": {"values": [{}]}, "mark": {"type": "rule", "color": "#f07f2a", "strokeWidth": 2.6}, "encoding": {"y": {"datum": 1}}},
  {"data": {"values": [{"t": "HD W0-0R0"}]}, "mark": {"type": "text", "align": "left", "baseline": "alphabetic", "fontSize": 21, "color": "#000"},
   "encoding": {"x": {"datum": 54}, "y": {"datum": 0.363}, "text": {"field": "t"}}},
  {"data": {"name": "sig"}, "mark": {"type": "text", "align": "right", "baseline": "middle", "fontSize": 18, "color": "#26a69a", "dx": -11, "dy": 1},
   "encoding": {"x": {"datum": 208.6}, "y": {"field": "lv", "type": "quantitative"}, "text": {"field": "t"}}},
  {"data": {"name": "sig"}, "mark": {"type": "text", "align": "right", "baseline": "middle", "fontSize": 18, "fontStyle": "italic", "color": "#26a69a", "dy": 1},
   "encoding": {"x": {"datum": 208.6}, "y": {"field": "lv", "type": "quantitative"}, "text": {"value": "σ"}}}
 ]}
]
}
